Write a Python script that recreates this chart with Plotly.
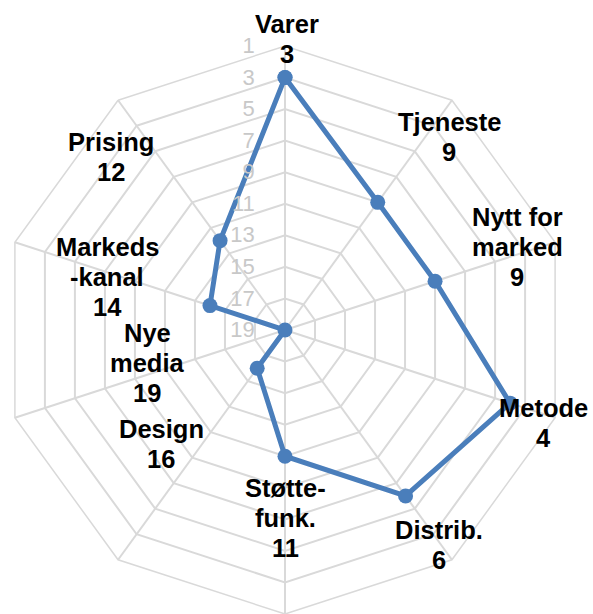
import plotly.graph_objects as go

categories = ["Varer", "Tjeneste", "Nytt for marked", "Metode", "Distrib.",
              "Støtte-funk.", "Design", "Nye media", "Markeds-kanal", "Prising"]
label_lines = [["Varer"], ["Tjeneste"], ["Nytt for", "marked"], ["Metode"], ["Distrib."],
               ["Støtte-", "funk."], ["Design"], ["Nye", "media"], ["Markeds", "-kanal"], ["Prising"]]
values = [3, 9, 9, 4, 6, 11, 16, 19, 14, 12]
radial_ticks = [1, 3, 5, 7, 9, 11, 13, 15, 17, 19]

W, H = 593, 614
# label block centres in pixels (layout only)
label_pos = [(287, 39), (449, 137), (517, 247), (543, 423), (439, 545),
             (285, 518), (161, 444), (147, 363), (107, 277), (111, 157)]
LINE = 30

blue = "#4a7ebb"
grid = "#d9d9d9"

fig = go.Figure()
fig.add_trace(go.Scatterpolar(
    r=values + values[:1],
    theta=categories + categories[:1],
    mode="lines+markers",
    line=dict(color=blue, width=5),
    marker=dict(color=blue, size=15),
    showlegend=False,
    hoverinfo="skip",
))

cx, cy, R = 285, 330, 284
fig.update_layout(
    width=W, height=H,
    margin=dict(l=0, r=0, t=0, b=0),
    paper_bgcolor="white",
    plot_bgcolor="white",
    polar=dict(
        domain=dict(x=[(cx - R) / W, (cx + R) / W], y=[(H - cy - R) / H, (H - cy + R) / H]),
        bgcolor="white",
        gridshape="linear",
        angularaxis=dict(
            categoryorder="array", categoryarray=categories,
            direction="clockwise", rotation=90,
            showticklabels=False, ticks="",
            showline=True, linecolor=grid, linewidth=1.5,
            showgrid=True, gridcolor=grid, gridwidth=1.5,
        ),
        radialaxis=dict(
            range=[19, 1], angle=90, side="counterclockwise",
            tickvals=radial_ticks, ticktext=[str(t) for t in radial_ticks],
            tickfont=dict(family="Liberation Sans", size=22, color="#c8c8c8"),
            ticks="outside", ticklen=22, tickcolor="rgba(0,0,0,0)",
            showline=False, showgrid=True, gridcolor=grid, gridwidth=1.5,
            tickangle=90,
        ),
    ),
)

for lines, val, (px, py) in zip(label_lines, values, label_pos):
    all_lines = lines + [str(val)]
    n = len(all_lines)
    for i, txt in enumerate(all_lines):
        ly = py + (i - (n - 1) / 2) * LINE
        fig.add_annotation(
            x=px / W, y=1 - ly / H, xref="paper", yref="paper",
            xanchor="center", yanchor="middle",
            text=f"<b>{txt}</b>", showarrow=False,
            font=dict(family="Liberation Sans", size=25.5, color="black"),
        )

fig.write_html("out.html", config={"displayModeBar": False},
               post_script="document.body.style.margin='0';")
